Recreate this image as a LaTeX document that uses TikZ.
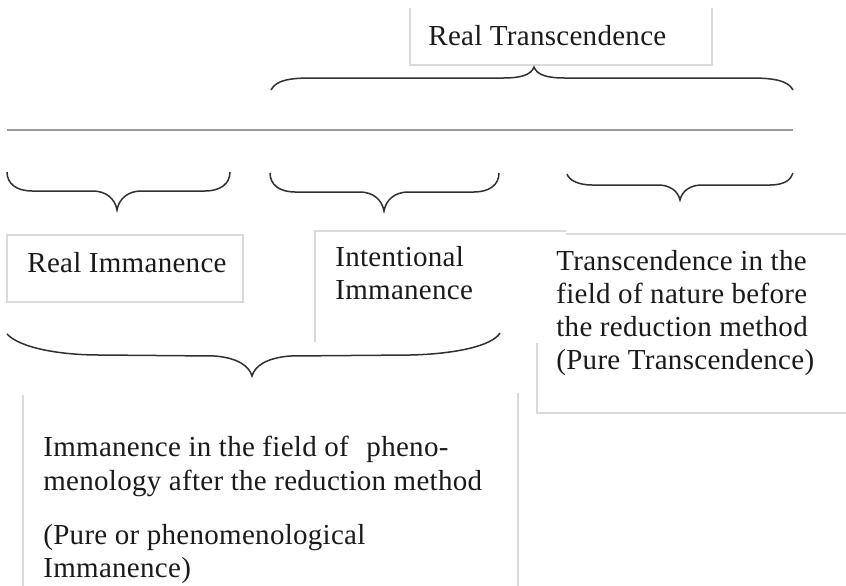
\documentclass[tikz,border=0pt]{standalone}
\usepackage{fontspec}
\setmainfont{Liberation Serif}[LetterSpace=1]
\definecolor{boxgray}{HTML}{D9D9D9}
\definecolor{bracegray}{HTML}{303030}
\definecolor{rulegray}{HTML}{9A9A9A}
\definecolor{textgray}{HTML}{1A1A1A}
\begin{document}
\begin{tikzpicture}[x=0.5pt,y=-0.5pt,
  lbl/.style={anchor=base west, inner sep=0pt, text=textgray, font=\fontsize{14.5}{18}\selectfont},
  boxline/.style={draw=boxgray, line width=0.6pt},
  brace/.style={draw=bracegray, line width=0.75pt},
  rulestyle/.style={draw=rulegray, line width=1.1pt}]
\useasboundingbox (0,0) rectangle (846,585);

% ---- boxes (thin light borders) ----
\draw[boxline] (410,8) -- (410,65) -- (712,65) -- (712,8);
\draw[boxline] (7,235) rectangle (243,302);
\draw[boxline] (566,234) -- (850,234);
\draw[boxline] (537,343) -- (537,413) -- (850,413);
\draw[boxline] (315,342) -- (315,231) -- (566,231);
\draw[boxline] (23,395) -- (23,590);
\draw[boxline] (518,393) -- (518,590);

% ---- horizontal rule ----
\draw[rulestyle] (7,130) -- (793,130);

% ---- top brace (opening downward, cusp up) ----
\draw[brace] (271,90) .. controls (276,80) and (290,78) .. (312,78)
  -- (503,78) .. controls (521,78) and (531,75) .. (534,67)
  .. controls (537,75) and (547,78) .. (565,78)
  -- (750,78) .. controls (772,78) and (788,80) .. (793,90);

% ---- lower braces (cusp down) ----
\draw[brace] (7,172) .. controls (7,184) and (17,191) .. (32,191)
  -- (93,191) .. controls (105,191) and (115,198) .. (117,210)
  .. controls (119,198) and (129,191) .. (141,191)
  -- (205,191) .. controls (220,191) and (230,184) .. (230,172);
\draw[brace] (270,173) .. controls (270,185) and (280,192) .. (295,192)
  -- (360,192) .. controls (372,192) and (382,199) .. (384,211)
  .. controls (386,199) and (396,192) .. (408,192)
  -- (474,192) .. controls (489,192) and (499,185) .. (499,173);
\draw[brace] (567,174) .. controls (569,180) and (578,185) .. (592,185)
  -- (658,185) .. controls (670,185) and (678,191) .. (680,200)
  .. controls (682,191) and (690,185) .. (702,185)
  -- (770,185) .. controls (784,185) and (791,180) .. (793,173);

% ---- big lower brace ----
\draw[brace] (7,334) .. controls (20,348) and (60,355) .. (100,355)
  -- (215,356) .. controls (238,358) and (249,366) .. (252,376)
  .. controls (255,366) and (266,358) .. (290,356)
  -- (410,355) .. controls (455,354) and (492,346) .. (500,333);

% ---- texts ----
\node[lbl] (rt) at (428,45) {Real Transcendence};
\node[lbl] (ri) at (27,272) {Real Immanence};
\node[lbl] (ii1) at (335,266) {Intentional};
\node[lbl] (ii2) at (335,299) {Immanence};
\node[lbl] (tn1) at (556,270) {Transcendence in the};
\node[lbl] (tn2) at (556,303) {field of nature before};
\node[lbl] (tn3) at (556,336) {the reduction method};
\node[lbl] (tn4) at (556,369) {(Pure Transcendence)};
\node[lbl] (ip1) at (43,456) {Immanence in the field of\hspace{0.35em} pheno-};
\node[lbl] (ip2) at (43,490) {menology after the reduction method};
\node[lbl] (ip3) at (43,544) {(Pure or phenomenological};
\node[lbl] (ip4) at (43,577) {Immanence)};
\end{tikzpicture}
\end{document}
